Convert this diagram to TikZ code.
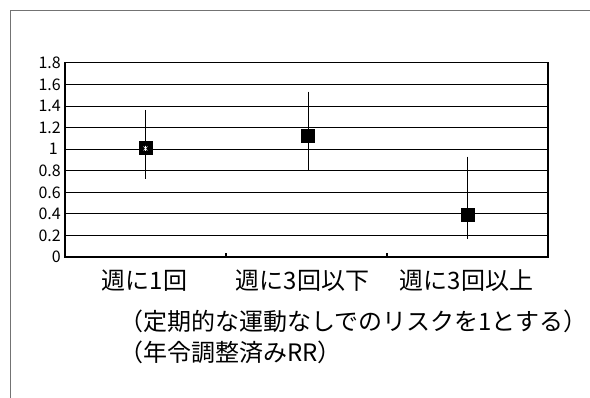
\documentclass[tikz,border=0pt]{standalone}
\usepackage{fontspec}
\setmainfont{Noto Sans CJK JP}
\begin{document}
\begin{tikzpicture}[x=1pt,y=-1pt,
  framestyle/.style={draw=black!55,line width=0.7pt},
  gridline/.style={draw=black,line width=1.05pt},
  errbar/.style={draw=black,line width=0.7pt},
  marker/.style={fill=black,draw=none},
  ylab/.style={anchor=east,inner sep=0pt,font=\fontsize{16}{18}\selectfont},
  catlab/.style={anchor=west,inner sep=0pt,font=\fontsize{24}{28}\selectfont},
  notelab/.style={anchor=west,inner sep=0pt,font=\fontsize{24}{28}\selectfont}]
\useasboundingbox (0,0) rectangle (590,398);
\fill[white] (0,0) rectangle (590,398);
% outer frame
\draw[framestyle] (10,398) -- (10,10.5) -- (590,10.5);
% plot box and grid
\def\yb{257}\def\ys{107.8}
\foreach \v in {0.2,0.4,...,1.7}{
  \draw[gridline] (65,{\yb-\ys*\v}) -- (548,{\yb-\ys*\v});
}
\draw[gridline] (65,{\yb-\ys*1.8}) rectangle (548,\yb);
% x ticks
\draw[gridline] (226,\yb) -- (226,{\yb-4});
\draw[gridline] (387,\yb) -- (387,{\yb-4});
% y labels
\node[ylab] (y0) at (61,{\yb}) {0};
\node[ylab] (y02) at (61,{\yb-\ys*0.2}) {0.2};
\node[ylab] (y04) at (61,{\yb-\ys*0.4}) {0.4};
\node[ylab] (y06) at (61,{\yb-\ys*0.6}) {0.6};
\node[ylab] (y08) at (61,{\yb-\ys*0.8}) {0.8};
\node[ylab] (y10) at (58,{\yb-\ys*1.0}) {1};
\node[ylab] (y12) at (61,{\yb-\ys*1.2}) {1.2};
\node[ylab] (y14) at (61,{\yb-\ys*1.4}) {1.4};
\node[ylab] (y16) at (61,{\yb-\ys*1.6}) {1.6};
\node[ylab] (y18) at (61,{\yb-\ys*1.8}) {1.8};
% error bars
\draw[errbar] (145.5,110) -- (145.5,179);
\draw[errbar] (308,91.7) -- (308,170.7);
\draw[errbar] (467.8,156.7) -- (467.8,239.3);
% markers
\fill[marker] (138.5,141.5) rectangle (152.5,155.5);
\fill[marker] (301,128.8) rectangle (315,142.8);
\fill[marker] (460.8,208.5) rectangle (474.8,222.5);
\draw[white,line width=0.6pt] (143.5,146.5) -- (147.5,150.5) (147.5,146.5) -- (143.5,150.5) (145.5,146) -- (145.5,151);
% category labels
\node[catlab] (c1) at (101.5,281) {週に1回};
\node[catlab] (c2) at (235.5,281) {週に3回以下};
\node[catlab] (c3) at (399.5,281) {週に3回以上};
% notes
\node[notelab] (n1) at (119,321) {（定期的な運動なしでのリスクを1とする）};
\node[notelab] (n2) at (119,352) {（年令調整済みRR）};
\end{tikzpicture}
\end{document}
